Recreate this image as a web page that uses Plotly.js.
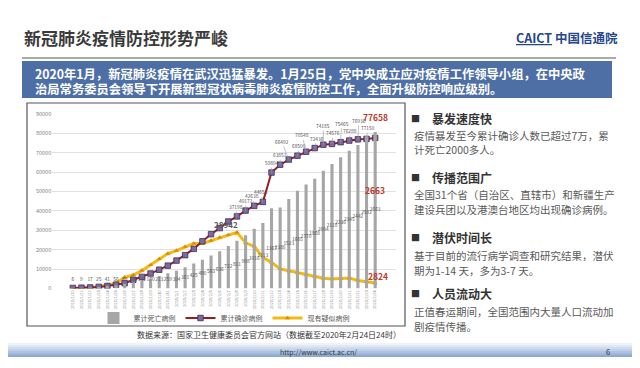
<!DOCTYPE html>
<html><head><meta charset="utf-8">
<script src="https://cdn.plot.ly/plotly-3.0.1.min.js"></script>
<style>html,body{margin:0;padding:0;background:#fff;}#chart{width:640px;height:368px;}</style>
</head><body><div id="chart"></div>
<script>
// ---- data ----
const dates = ["2020/1/20","2020/1/21","2020/1/22","2020/1/23","2020/1/24","2020/1/25","2020/1/26","2020/1/27","2020/1/28","2020/1/29","2020/1/30","2020/1/31","2020/2/1","2020/2/2","2020/2/3","2020/2/4","2020/2/5","2020/2/6","2020/2/7","2020/2/8","2020/2/9","2020/2/10","2020/2/11","2020/2/12","2020/2/13","2020/2/14","2020/2/15","2020/2/16","2020/2/17","2020/2/18","2020/2/19","2020/2/20","2020/2/21","2020/2/22","2020/2/23","2020/2/24"];
const deaths = [6,9,17,25,41,56,80,106,132,170,213,259,304,361,425,490,563,636,722,811,908,1016,1113,1367,1380,1523,1665,1770,1868,2004,2118,2236,2345,2442,2592,2663];
const confirmed = [291,440,571,830,1287,1975,2744,4515,5974,7711,9692,11791,14380,17205,20438,24324,28018,31161,34546,37198,40171,42638,44653,59804,63851,66492,68500,70548,72436,74185,74576,75465,76288,76936,77150,77658];
const suspected = [54,37,393,1072,1965,2684,5794,6973,9239,12167,15238,17988,19544,21558,23214,23260,24702,26359,27657,28942,23589,21675,16067,13435,10109,8969,8228,7264,6242,5248,4922,5206,5365,4148,3434,2824];
const seriesNames = ["累计死亡病例","累计确诊病例","现有疑似病例"];
const yTicks = [0,10000,20000,30000,40000,50000,60000,70000,80000,90000];

// ---- helpers (pixel -> paper) ----
const W = 640, H = 368;
const px = x => x / W, py = y => 1 - y / H;
const CJK = "Noto Sans CJK SC";

const traces = [
  {type:"bar", x:dates, y:deaths, yaxis:"y2", name:seriesNames[0], width:0.36,
   marker:{color:"#a6a6a6"}, legendrank:1, hoverinfo:"skip"},
  {type:"scatter", mode:"text", x:dates, y:deaths.map(d=>Math.max(d/2,150)), yaxis:"y2",
   text:deaths.map(String), textfont:{size:4.8,color:"#505050",family:CJK}, showlegend:false, hoverinfo:"skip"},
  {type:"scatter", mode:"lines+markers", x:dates, y:suspected, name:seriesNames[2], legendrank:3,
   line:{color:"#f5b90f",width:3}, marker:{symbol:"triangle-up",size:4.5,color:"#d98c0a"}},
  {type:"scatter", mode:"lines+markers", x:dates, y:confirmed, name:seriesNames[1], legendrank:2,
   line:{color:"#9b1b1f",width:2}, marker:{symbol:"square",size:5.5,color:"#7d6b9c",line:{color:"#3e2c5c",width:0.8}}}
];

// confirmed value labels (from 2/8 on)
const lblStart = 19;
const ayList = [-10,-10,-10,-10,-10,-10,-18,-10,-17,-10,-19,-11,-19,-10,-19,-11];
const axList = [-1,0,-2,-2,0,0,-7,2,-4,2,0,1,1,1,1,1];
const annotations = [];
for (let i = lblStart; i < dates.length - 1; i++) {
  const k = i - lblStart;
  annotations.push({x:dates[i], y:confirmed[i], xref:"x", yref:"y", text:String(confirmed[i]),
    showarrow:true, arrowhead:0, arrowwidth:0.6, arrowcolor:"#9a9a9a", ax:axList[k], ay:ayList[k],
    font:{size:4.8,color:"#505050",family:CJK}});
}
const last = dates.length - 1;
annotations.push({x:dates[last], y:confirmed[last], xref:"x", yref:"y", text:"<b>"+confirmed[last]+"</b>",
  showarrow:false, yshift:21, font:{size:8.5,color:"#c0392b",family:CJK}});
annotations.push({x:dates[last], y:deaths[last], xref:"x", yref:"y2", text:"<b>"+deaths[last]+"</b>",
  showarrow:false, yshift:-58, font:{size:8.5,color:"#c0392b",family:CJK}});
annotations.push({x:dates[last], y:suspected[last], xref:"x", yref:"y", text:"<b>"+suspected[last]+"</b>",
  showarrow:false, yshift:7, xshift:3, font:{size:8.5,color:"#c0392b",family:CJK}});
const peak = suspected.indexOf(Math.max(...suspected));
annotations.push({x:dates[peak], y:suspected[peak], xref:"x", yref:"y", text:"<b>"+suspected[peak]+"</b>",
  showarrow:false, yshift:8, xshift:-11, font:{size:8,color:"#595959",family:CJK}});

// slide texts
function txt(x,y,t,size,color,anchor,extra){
  annotations.push(Object.assign({x:px(x), y:py(y), xref:"paper", yref:"paper", text:t, showarrow:false,
    xanchor:anchor||"left", yanchor:"middle", font:{size:size,color:color,family:CJK}}, extra||{}));
}
txt(22,37,"<b>新冠肺炎疫情防控形势严峻</b>",17,"#3a3a3a");
txt(620,37,"<b><u>CAICT</u></b> <b>中国信通院</b>",12.5,"#26478a","right");
txt(33,74,"<b>2020年1月，新冠肺炎疫情在武汉迅猛暴发。1月25日，党中央成立应对疫情工作领导小组，在中央政</b>",12.3,"#ffffff");
txt(33,89,"<b>治局常务委员会领导下开展新型冠状病毒肺炎疫情防控工作，全面升级防控响应级别。</b>",12.3,"#ffffff");

const bullets = [
  ["暴发速度快",118,"疫情暴发至今累计确诊人数已超过7万，累","计死亡2000多人。"],
  ["传播范围广",177,"全国31个省（自治区、直辖市）和新疆生产","建设兵团以及港澳台地区均出现确诊病例。"],
  ["潜伏时间长",237,"基于目前的流行病学调查和研究结果，潜伏","期为1-14 天，多为3-7 天。"],
  ["人员流动大",293,"正值春运期间，全国范围内大量人口流动加","剧疫情传播。"]
];
const descGap = [17,17,18,18];
bullets.forEach((b,i)=>{
  txt(409,b[1],"■",9,"#333333");
  txt(430,b[1],"<b>"+b[0]+"</b>",12,"#333333");
  txt(412,b[1]+descGap[i],b[2],10.5,"#595959");
  txt(412,b[1]+descGap[i]+15,b[3],10.5,"#595959");
});
txt(403,334,"数据来源：国家卫生健康委员会官方网站（数据截至2020年2月24日24时）",8,"#333333","right");
txt(318,352,"http://www.caict.ac.cn/",7,"#333333","center");
txt(608,351,"6",7.5,"#333333","center");

// shapes
const shapes = [
  {type:"line", xref:"paper", yref:"paper", x0:px(22), x1:px(616), y0:py(58), y1:py(58), line:{color:"#8c8c8c",width:1.5}, layer:"below"},
  {type:"rect", xref:"paper", yref:"paper", x0:px(22), x1:px(612), y0:py(98), y1:py(61), fillcolor:"#4e6fa6", line:{width:0}, layer:"below"},
  {type:"rect", xref:"paper", yref:"paper", x0:px(27), x1:px(405), y0:py(326), y1:py(103), fillcolor:"rgba(0,0,0,0)", line:{color:"#555555",width:1.2}, layer:"below"}
];
const bandCols = ["#eef3f9","#dfe8f3","#cfdcee","#bfd0e8","#aec3e1","#9db6da","#8eaad3"];
bandCols.forEach((c,i)=>{
  shapes.push({type:"rect", xref:"paper", yref:"paper", x0:px(8), x1:px(632), y0:py(343+i*2+2), y1:py(343+i*2),
    fillcolor:c, line:{width:0}, layer:"below"});
});

const layout = {
  width:W, height:H, margin:{l:0,r:0,t:0,b:0},
  paper_bgcolor:"#ffffff", plot_bgcolor:"rgba(0,0,0,0)",
  font:{family:CJK, color:"#595959"},
  showlegend:true,
  legend:{orientation:"h", x:px(224), xanchor:"center", y:py(318), yanchor:"middle",
    font:{size:7,color:"#595959",family:CJK}, bgcolor:"rgba(0,0,0,0)", itemwidth:30, traceorder:"normal"},
  xaxis:{type:"category", domain:[px(52.2),px(395.8)], tickangle:-90, tickfont:{size:4,color:"#7f7f7f"},
    showgrid:false, showline:false, ticks:"", automargin:false},
  yaxis:{range:[0,90000], domain:[py(288.5),py(114)], tickvals:yTicks, ticktext:yTicks.map(String),
    tickfont:{size:5.5,color:"#7f7f7f"}, gridcolor:"#d9d9d9", gridwidth:0.8, zeroline:false, showline:false, automargin:false},
  yaxis2:{range:[0,2970], overlaying:"y", visible:false},
  annotations:annotations, shapes:shapes, bargap:0.6
};
Plotly.newPlot("chart", traces, layout, {staticPlot:true, displayModeBar:false});
</script></body></html>
